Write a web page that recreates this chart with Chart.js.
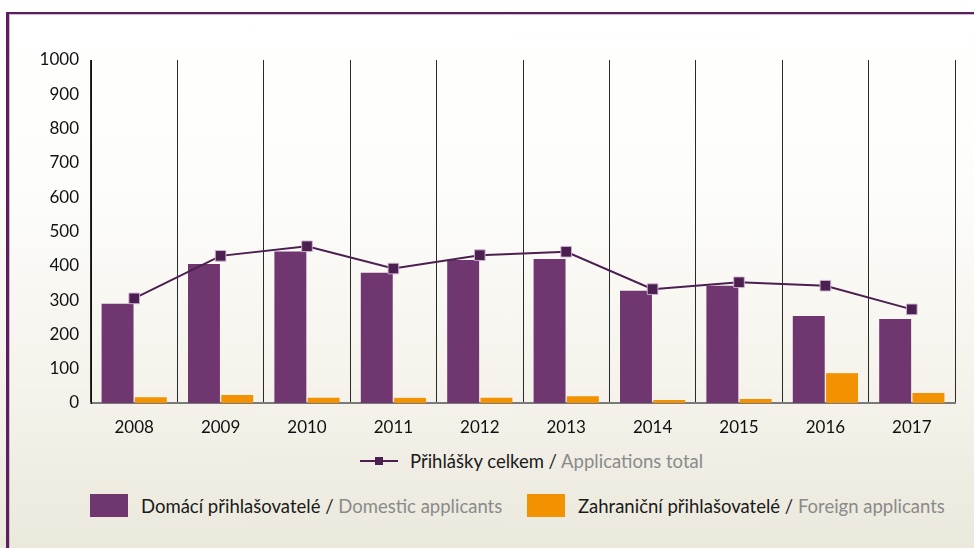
<!DOCTYPE html>
<html>
<head>
<meta charset="utf-8">
<script src="https://cdn.jsdelivr.net/npm/chart.js@4/dist/chart.umd.min.js"></script>
<style>
    html, body { margin: 0; padding: 0; }
    body {
        width: 974px;
        height: 548px;
        overflow: hidden;
        background: linear-gradient(to bottom, #ffffff 0px, #fdfdfb 180px, #f4f2ea 400px, #ebe8dc 548px);
        font-family: Lato, "Open Sans", sans-serif;
        position: relative;
    }
    /* ramecek nahore a vlevo */
    #frame {
        position: absolute;
        left: 6px;
        top: 12px;
        right: -10px;
        bottom: -10px;
        border-top: 2px solid #5a1f5c;
        border-left: 3px solid #5a1f5c;
        box-shadow: inset 1px 1px 0 #d6b8d6;
    }
    #chartBox {
        position: absolute;
        left: 0;
        top: 0;
        width: 974px;
        height: 440px;
    }
    .legend-item {
        position: absolute;
        font-size: 18.5px;
        color: #1a1a1a;
        white-space: nowrap;
        display: flex;
        align-items: center;
    }
    .legend-item .en { color: #8a8a8a; }
    .swatch { display: inline-block; width: 38px; height: 23px; margin-right: 13px; }
    .line-swatch { position: relative; display: inline-block; width: 38px; height: 10px; margin-right: 12px; }
    .line-swatch::before {
        content: ""; position: absolute; left: 0; right: 0; top: 4px; height: 2px; background: var(--c);
    }
    .line-swatch::after {
        content: ""; position: absolute; left: 15px; top: 1px; width: 8px; height: 8px; background: var(--c);
    }
</style>
</head>
<body>
<div id="frame"></div>
<div id="chartBox"><canvas id="appChart"></canvas></div>
<div id="legend"></div>

<script>
// ===== DATA =====
const years = ['2008', '2009', '2010', '2011', '2012', '2013', '2014', '2015', '2016', '2017'];
const domestic = [289, 405, 442, 380, 417, 420, 327, 342, 254, 245];
const foreign = [17, 23, 15, 15, 15, 20, 9, 12, 87, 29];
const total = [305, 429, 457, 392, 431, 441, 332, 352, 342, 273];
const yTicks = [0, 100, 200, 300, 400, 500, 600, 700, 800, 900, 1000];

const labelsCz = ['Přihlášky celkem', 'Domácí přihlašovatelé', 'Zahraniční přihlašovatelé'];
const labelsEn = ['Applications total', 'Domestic applicants', 'Foreign applicants'];

const colTotal = '#4b1f50';
const colDomestic = '#703670';
const colForeign = '#f39200';

const ctx = document.getElementById('appChart').getContext('2d');

const chart = new Chart(ctx, {
    type: 'bar',
    data: {
        labels: years,
        datasets: [{
            type: 'line',
            label: labelsCz[0],
            data: total,
            borderColor: colTotal,
            backgroundColor: colTotal,
            borderWidth: 2,
            pointStyle: 'rect',
            pointRadius: 7.5,
            pointBackgroundColor: colTotal,
            pointBorderColor: 'rgba(210, 180, 210, 0.9)',
            pointBorderWidth: 1,
            tension: 0,
            order: 0
        }, {
            label: labelsCz[1],
            data: domestic,
            backgroundColor: colDomestic,
            categoryPercentage: 0.77,
            barPercentage: 0.96,
            order: 1
        }, {
            label: labelsCz[2],
            data: foreign,
            backgroundColor: colForeign,
            categoryPercentage: 0.77,
            barPercentage: 0.96,
            order: 2
        }]
    },
    options: {
        responsive: true,
        maintainAspectRatio: false,
        animation: false,
        layout: {
            padding: { top: 60, right: 19, left: 0, bottom: 0 }
        },
        plugins: {
            legend: { display: false },
            tooltip: { enabled: false }
        },
        scales: {
            x: {
                grid: {
                    display: true,
                    color: '#2a2a2a',
                    lineWidth: 1,
                    drawTicks: false
                },
                border: { display: true, color: '#7a7a7a', width: 2 },
                ticks: {
                    color: '#111',
                    font: { family: 'Lato', size: 17 },
                    padding: 14
                },
                afterFit: function(scale) { scale.height = 37; }
            },
            y: {
                min: 0,
                max: 1000,
                afterBuildTicks: function(scale) {
                    scale.ticks = yTicks.map(v => ({ value: v }));
                },
                grid: { display: false, drawTicks: false },
                border: { display: true, color: '#111', width: 1 },
                ticks: {
                    color: '#111',
                    font: { family: 'Lato', size: 17 },
                    padding: 12,
                    callback: function(value) { return String(value); }
                },
                afterFit: function(scale) { scale.width = 91; }
            }
        }
    }
});

// ===== LEGENDA (HTML, dvoubarevny text) =====
function buildLegend(chart) {
    const box = document.getElementById('legend');
    const ds = chart.data.datasets;
    const pos = [
        { left: 360, top: 450 },
        { left: 90, top: 494 },
        { left: 527, top: 494 }
    ];
    ds.forEach((d, i) => {
        const item = document.createElement('div');
        item.className = 'legend-item';
        item.style.left = pos[i].left + 'px';
        item.style.top = pos[i].top + 'px';
        const sw = document.createElement('span');
        if (d.type === 'line') {
            sw.className = 'line-swatch';
            sw.style.setProperty('--c', d.borderColor);
        } else {
            sw.className = 'swatch';
            sw.style.background = d.backgroundColor;
        }
        item.appendChild(sw);
        const txt = document.createElement('span');
        txt.innerHTML = labelsCz[i] + ' / <span class="en">' + labelsEn[i] + '</span>';
        item.appendChild(txt);
        box.appendChild(item);
    });
}
buildLegend(chart);
</script>
</body>
</html>
